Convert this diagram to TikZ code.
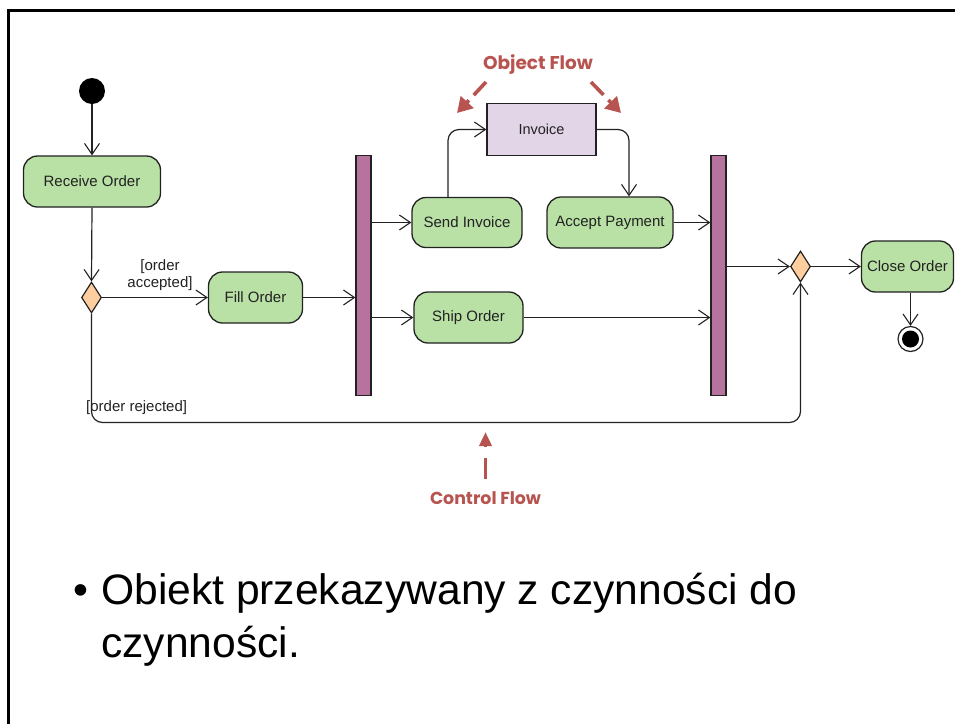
\documentclass[tikz,border=0pt]{standalone}
\usepackage{fontspec}
\setmainfont{Liberation Sans}
\newfontfamily\geofont{Poppins}
\usetikzlibrary{arrows.meta,shapes.geometric,calc}

\definecolor{actgreen}{HTML}{B9E0A5}
\definecolor{barpurple}{HTML}{B5739D}
\definecolor{decorange}{HTML}{FFCE9F}
\definecolor{objlilac}{HTML}{E1D5E7}
\definecolor{notered}{HTML}{B85450}
\definecolor{ink}{HTML}{222222}

\tikzset{
  activity/.style={draw=ink, line width=1.3pt, fill=actgreen, rounded corners=14pt,
    minimum height=51pt, inner sep=0pt, text=ink,
    font=\fontsize{15}{18}\selectfont},
  objbox/.style={draw=ink, line width=1.3pt, fill=objlilac, minimum width=109pt,
    minimum height=52pt, inner sep=0pt, text=ink, font=\fontsize{14.5}{17}\selectfont},
  syncbar/.style={draw=ink, line width=1.2pt, fill=barpurple, minimum width=15pt,
    minimum height=240pt, inner sep=0pt},
  decision/.style={diamond, draw=ink, line width=1.2pt, fill=decorange,
    minimum width=20pt, minimum height=31pt, inner sep=0pt},
  flow/.style={draw=ink, line width=1.2pt,
    -{Straight Barb[length=11pt,width=15pt,line width=1.1pt]}},
  guard/.style={text=ink, inner sep=0pt, align=center,
    font=\fontsize{15}{17}\selectfont},
  callout/.style={draw=notered, line width=3.6pt,
    -{Triangle[length=15pt,width=17pt]}},
  callouttext/.style={text=notered, inner sep=0pt},
  slidetext/.style={inner sep=0pt, anchor=base west, text=black,
    font=\fontsize{42.6}{51}\selectfont}
}

\begin{document}
\begin{tikzpicture}[x=1pt,y=-1pt]
\useasboundingbox (0,0) rectangle (955,724);

% slide frame (top and left edges)
\draw[line width=3pt, line join=miter] (8.5,724) -- (8.5,10.5) -- (955,10.5);

% start and end
\node[circle, fill=black, minimum size=26pt, inner sep=0pt] (init) at (92,91) {};
\node[circle, draw=ink, fill=white, line width=1.2pt, minimum size=25pt, inner sep=0pt] (final) at (910.5,339) {};
\fill[black] (final.center) circle (8.5pt);

% actions
\node[activity, minimum width=137pt] (receive) at (92,181.5) {Receive Order};
\node[decision] (dec) at (91.5,297.5) {};
\node[activity, minimum width=94pt] (fill) at (255.5,297.5) {Fill Order};
\node[syncbar] (fork) at (363.5,275.5) {};
\node[activity, minimum width=110pt, minimum height=50pt] (send) at (467,222.5) {Send Invoice};
\node[activity, minimum width=109pt] (ship) at (468.5,317.5) {Ship Order};
\node[objbox] (inv) at (541.5,129.5) {Invoice};
\node[activity, minimum width=126pt] (acc) at (610,222.5) {Accept Payment};
\node[syncbar] (join) at (718.5,275.5) {};
\node[decision] (merge) at (800.5,266.5) {};
\node[activity, minimum width=92pt] (close) at (907.5,266.5) {Close Order};

% guard labels
\node[guard] (accepted) at (160,275) {[order\\accepted]};
\node[guard, anchor=west] (rejected) at (86,408) {[order rejected]};

% control and object flows
\draw[flow] (init) -- (receive.north);
\draw[flow] (receive.south) -- (dec.north);
\draw[flow] (dec.east) -- (fill.west);
\draw[flow] (fill.east) -- (fill.east -| fork.west);
\draw[flow] (fork.east |- send.west) -- (send.west);
\draw[flow] (fork.east |- ship.west) -- (ship.west);
\draw[flow, rounded corners=11pt] ([xshift=-19pt]send.north) |- (inv.west);
\draw[flow, rounded corners=11pt] (inv.east) -| ([xshift=19pt]acc.north);
\draw[flow] (acc.east) -- (acc.east -| join.west);
\draw[flow] (ship.east) -- (ship.east -| join.west);
\draw[flow] (join.east |- merge.west) -- (merge.west);
\draw[flow] (merge.east) -- (close.west);
\draw[flow] (final |- close.south) -- (final.north);
\coordinate (loopy) at (0,422.5);
\draw[flow, rounded corners=11pt] (dec.south) |- (merge.south |- loopy) -- (merge.south);

% callouts
\node[callouttext] (objflow) at (538,64.5) {\resizebox{110pt}{!}{\geofont\bfseries Object Flow}};
\node[callouttext] (ctrlflow) at (485.5,498) {\resizebox{111pt}{!}{\geofont\bfseries Control Flow}};
\coordinate (objL) at (486,82);
\coordinate (objLtip) at (457,113);
\coordinate (objR) at (591,82);
\coordinate (objRtip) at (621,113);
\coordinate (ctrl) at (485.5,479);
\coordinate (ctrltip) at (485.5,432);
\draw[callout, dash pattern=on 18pt off 7pt] (objL) -- (objLtip);
\draw[callout, dash pattern=on 18pt off 7pt] (objR) -- (objRtip);
\draw[callout, dash pattern=on 21pt off 11pt, -{Triangle[length=14pt,width=12pt]}] (ctrl) -- (ctrltip);

% bullet point text
\node[inner sep=0pt, anchor=base, font=\fontsize{42.6}{51}\selectfont] (bullet) at (80.5,604) {•};
\node[slidetext] (line1) at (101,604) {Obiekt przekazywany z czynności do};
\node[slidetext] (line2) at (101,657) {czynności.};
\end{tikzpicture}
\end{document}
